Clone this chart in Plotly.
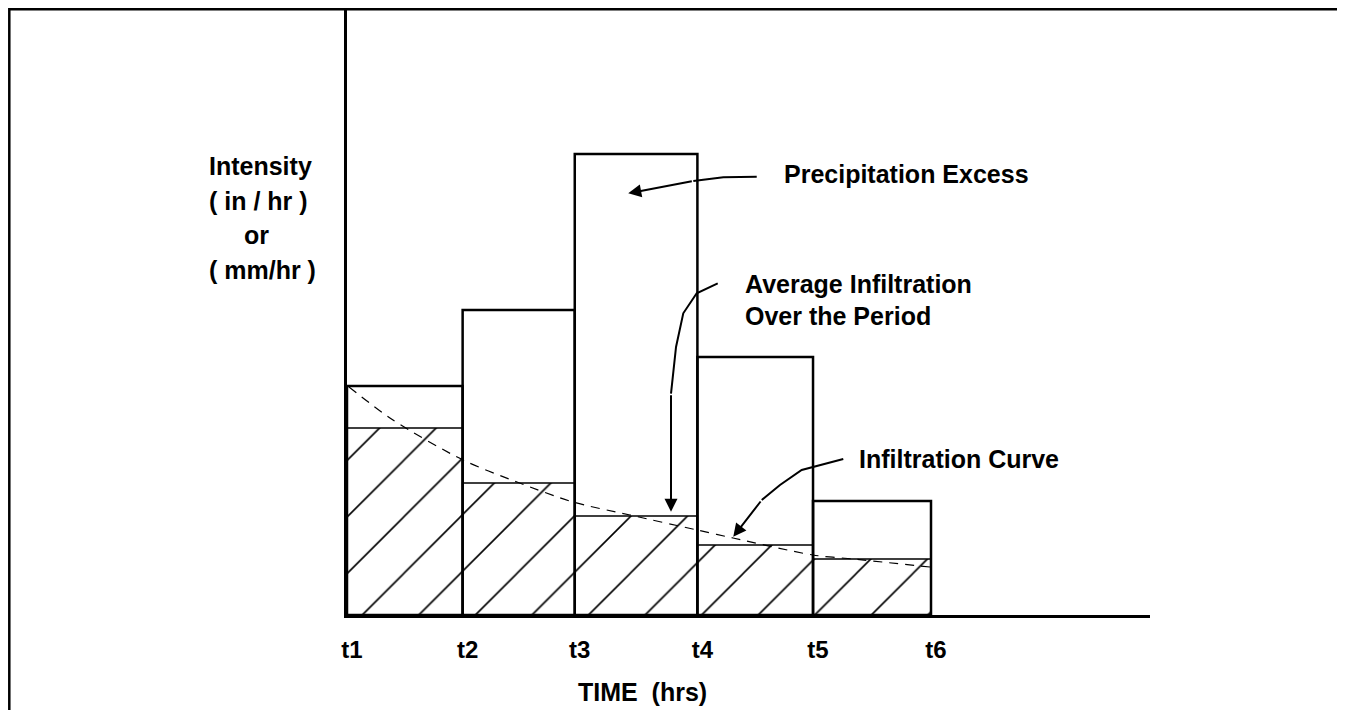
import plotly.graph_objects as go

# time marks (hrs) and tick labels
t_marks = [0.0, 0.99, 1.95, 3.0, 3.99, 5.0]
t_labels = ["t1", "t2", "t3", "t4", "t5", "t6"]

# rainfall intensity per period and average infiltration per period
precip = [2.29, 3.05, 4.61, 2.58, 1.14]
avg_infil = [1.87, 1.32, 0.99, 0.70, 0.56]

# infiltration capacity curve
curve_t = [0.017, 0.394, 0.993, 1.455, 1.935, 2.423, 2.997, 3.305, 3.990, 4.332, 4.991]
curve_f = [2.28, 1.95, 1.55, 1.33, 1.13, 1.00, 0.85, 0.77, 0.60, 0.56, 0.48]

# hand-drawn leader lines for the callouts (last point is the arrow tip)
excess_path = ([3.508, 3.222, 2.965, 2.408], [4.383, 4.377, 4.340, 4.217])
avg_path = ([3.174, 2.994, 2.879, 2.817, 2.774, 2.774], [3.317, 3.217, 3.017, 2.680, 2.213, 1.033])
curve_path = ([4.249, 3.893, 3.707, 3.551, 3.307], [1.56, 1.45, 1.30, 1.15, 0.783])

FONT = "Liberation Sans, Arial, Helvetica, sans-serif"
OFF = 8  # page margin around the plotly div
W, H = 1345 - OFF, 710 - OFF
L, R, T, B = 347 - OFF, 1150 - OFF, 0, 615 - OFF
X_MAX = (R - L) / 116.8
Y_MAX = (B - T) / 100.0


def paper_x(px):
    return (px - OFF - L) / (R - L)


def paper_y(py):
    return (B - (py - OFF)) / (B - T)


centers = [(a + b) / 2 for a, b in zip(t_marks[:-1], t_marks[1:])]
widths = [b - a for a, b in zip(t_marks[:-1], t_marks[1:])]

fig = go.Figure()

fig.add_trace(
    go.Bar(
        x=centers,
        y=avg_infil,
        width=widths,
        marker=dict(
            color="white",
            opacity=1,
            line=dict(color="black", width=1.5),
            pattern=dict(
                shape="/", size=40, solidity=0.04, fillmode="replace",
                fgcolor="black", fgopacity=1, bgcolor="white",
            ),
        ),
        hoverinfo="skip",
    )
)
fig.add_trace(
    go.Bar(
        x=centers,
        y=precip,
        width=widths,
        marker=dict(color="rgba(0,0,0,0)", line=dict(color="black", width=2.5)),
        hoverinfo="skip",
    )
)
fig.add_trace(
    go.Scatter(
        x=curve_t,
        y=curve_f,
        mode="lines",
        line=dict(color="black", width=1.2, dash="9px,7px", shape="spline", smoothing=0.8),
        hoverinfo="skip",
    )
)

annotations = []
for xs, ys in [excess_path, avg_path, curve_path]:
    fig.add_trace(
        go.Scatter(
            x=xs[:-1],
            y=ys[:-1],
            mode="lines",
            line=dict(color="black", width=2),
            hoverinfo="skip",
        )
    )
    annotations.append(
        dict(
            x=xs[-1], y=ys[-1], ax=xs[-2], ay=ys[-2],
            xref="x", yref="y", axref="x", ayref="y",
            text="", showarrow=True, arrowhead=2, arrowsize=1.3,
            arrowwidth=2, arrowcolor="black", standoff=0,
        )
    )

labels = [
    ("Intensity", 260, 166, "center"),
    ("( in / hr )", 258, 201, "center"),
    ("or", 256, 235, "center"),
    ("( mm/hr )", 262, 270, "center"),
    ("Precipitation Excess", 782, 174, "left"),
    ("Average Infiltration", 743, 284, "left"),
    ("Over the Period", 743, 316, "left"),
    ("Infiltration Curve", 857, 459, "left"),
    ("TIME\u00a0\u00a0(hrs)", 642, 692, "center"),
]
for text, px, py, anchor in labels:
    annotations.append(
        dict(
            text=text, x=paper_x(px), y=paper_y(py),
            xref="paper", yref="paper", xanchor=anchor, yanchor="middle",
            showarrow=False,
            font=dict(family=FONT, size=25, color="black", weight="bold"),
        )
    )

# outer frame of the figure (runs off the right and bottom edges)
shapes = [
    dict(
        type="rect", xref="paper", yref="paper",
        x0=paper_x(OFF + 1.3), x1=paper_x(1400), y0=paper_y(OFF + 1.3), y1=paper_y(760),
        line=dict(color="black", width=2.5),
    )
]

fig.update_layout(
    width=W,
    height=H,
    margin=dict(l=L, r=W - R, t=T, b=H - B, pad=0),
    paper_bgcolor="white",
    plot_bgcolor="white",
    barmode="overlay",
    showlegend=False,
    annotations=annotations,
    shapes=shapes,
    xaxis=dict(
        range=[0, X_MAX],
        tickvals=t_marks,
        ticktext=t_labels,
        tickfont=dict(family=FONT, size=24, color="black", weight="bold"),
        ticks="",
        ticklabelstandoff=11,
        ticklabelshift=5,
        showgrid=False,
        zeroline=False,
        showline=True,
        linecolor="black",
        linewidth=2.5,
    ),
    yaxis=dict(
        range=[0, Y_MAX],
        showticklabels=False,
        ticks="",
        showgrid=False,
        zeroline=False,
        showline=True,
        linecolor="black",
        linewidth=2.5,
    ),
)

fig.write_html("out.html")
